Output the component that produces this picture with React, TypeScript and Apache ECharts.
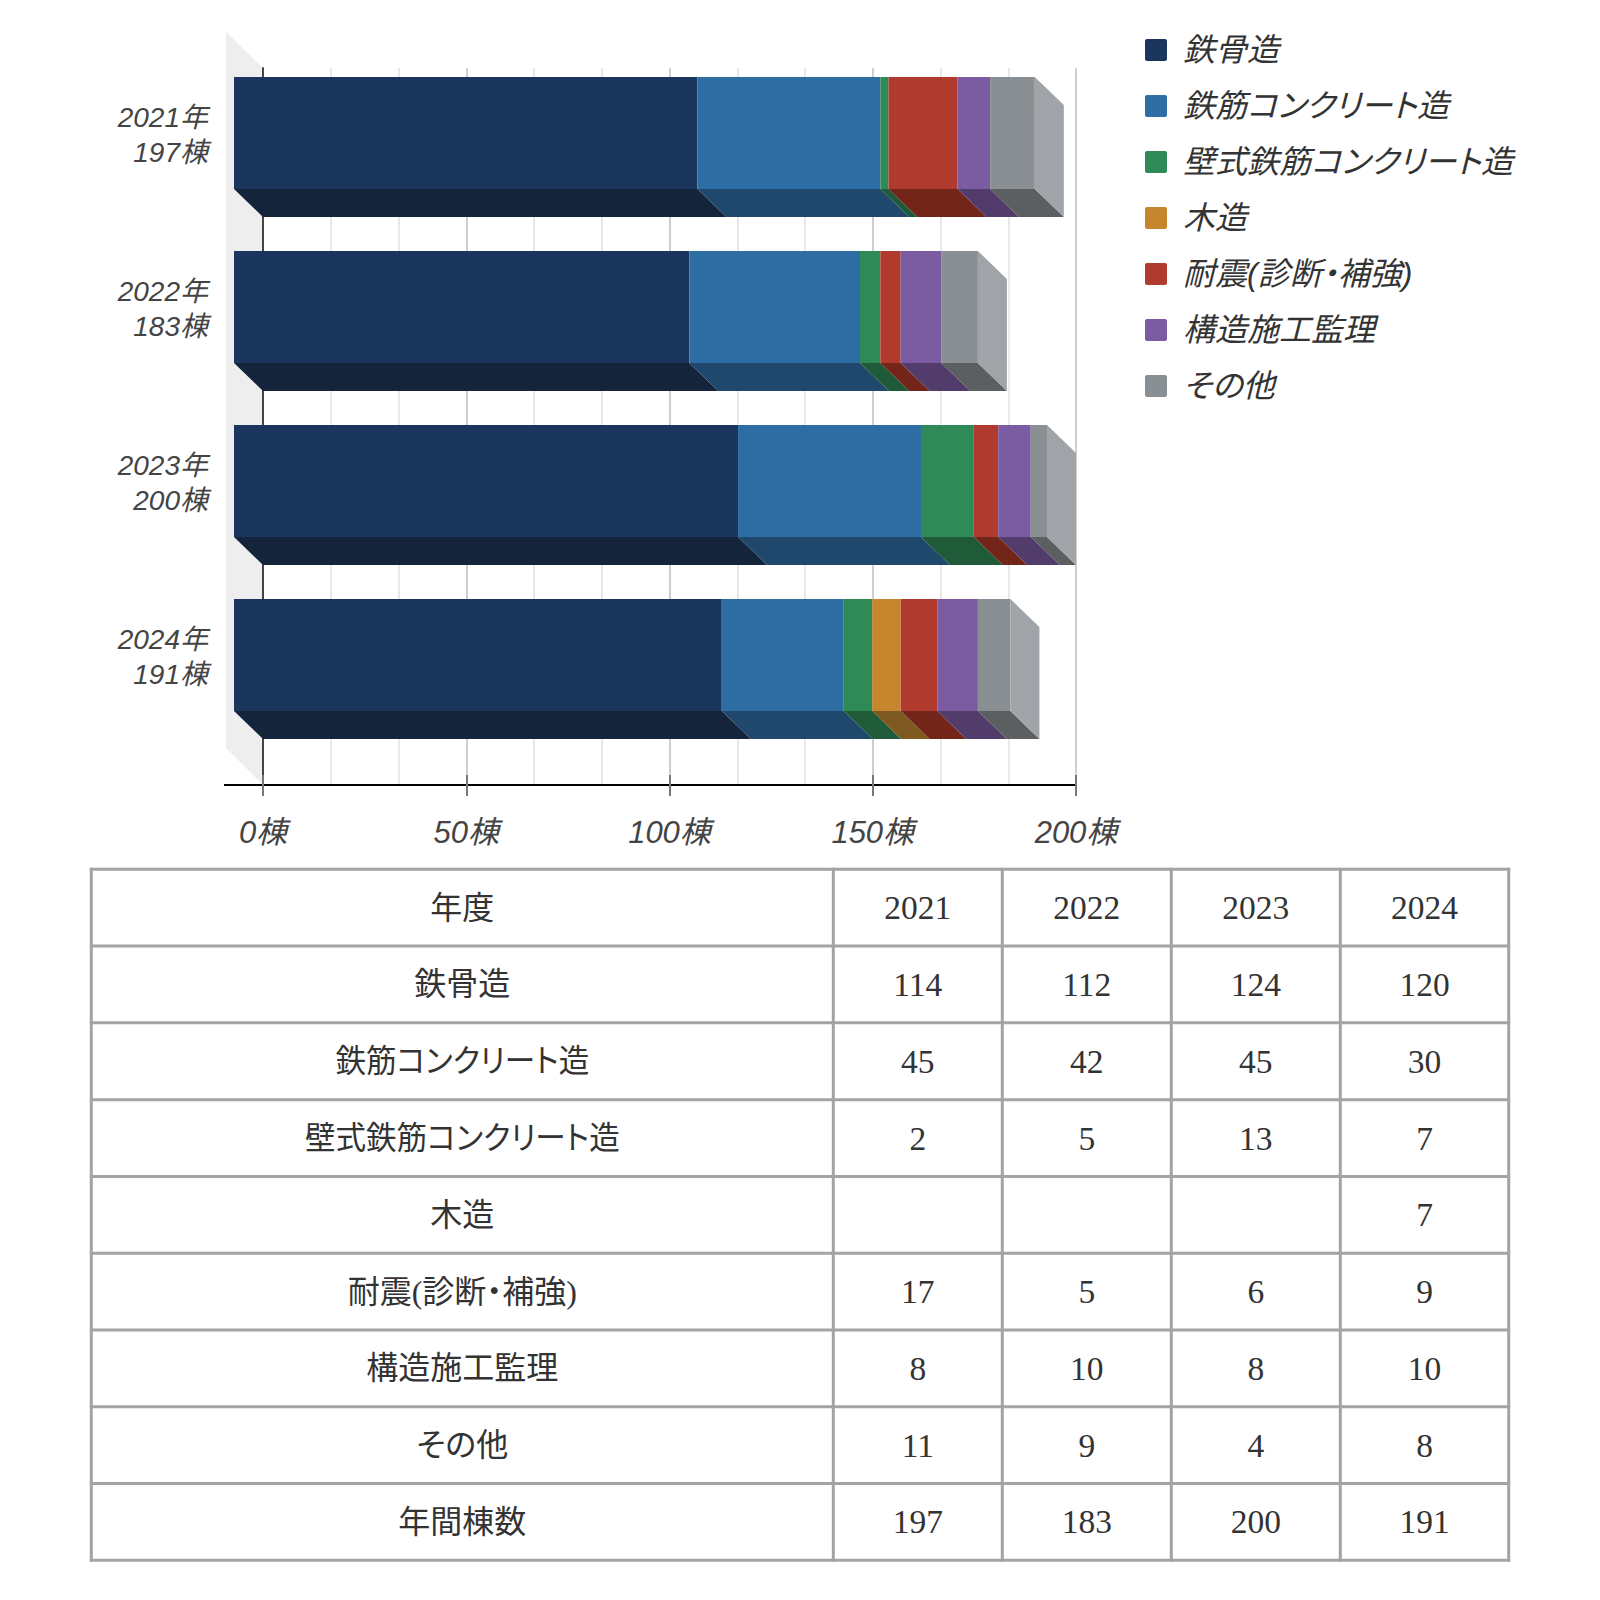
import React, { useEffect, useRef } from "react";
import * as echarts from "echarts";

const years = ["2021", "2022", "2023", "2024"];
const totals = [197, 183, 200, 191];
const structureNames = ["鉄骨造", "鉄筋コンクリート造", "壁式鉄筋コンクリート造", "木造", "耐震(診断・補強)", "構造施工監理", "その他"];
const steelFrame = [114, 112, 124, 120];
const reinforcedConcrete = [45, 42, 45, 30];
const wallConcrete = [2, 5, 13, 7];
const wooden = [null, null, null, 7];
const seismic = [17, 5, 6, 9];
const supervision = [8, 10, 8, 10];
const others = [11, 9, 4, 8];
const frontColors = ["#1b365d", "#2e6da4", "#2e8b57", "#c6862d", "#b03a2e", "#7b5ba1", "#8a8f93"];
const bottomColors = ["#14243b", "#1f486c", "#1f5a39", "#7f5a20", "#73251a", "#523c6b", "#5b5f61"];
const sideColor = "#a0a4a8";
const xTicks = { min: 0, max: 200, interval: 50 };

const seriesValues = [steelFrame, reinforcedConcrete, wallConcrete, wooden, seismic, supervision, others];
const SANS = '"Liberation Sans","Noto Sans CJK JP",sans-serif';
const TABLE_FONT = '"Liberation Serif","Noto Sans CJK JP",serif';
const LEGEND_ICON = "path://M2,0H20Q22,0 22,2V20Q22,22 20,22H2Q0,22 0,20V2Q0,0 2,0Z";

function stackedData(idx: number) {
  return years.map((_, row) => {
    let start = 0;
    for (let s = 0; s < idx; s++) start += seriesValues[s][row] || 0;
    const v = seriesValues[idx][row] || 0;
    return [start, start + v, row];
  });
}

function makeRenderItem(idx: number) {
  const DX = 29;
  const DY = 28;
  const HALF = 56;
  return (_p: any, api: any) => {
    const start = api.value(0);
    const end = api.value(1);
    const row = api.value(2);
    if (end <= start) return { type: "group", children: [] };
    const a = api.coord([start, row]);
    const b = api.coord([end, row]);
    const x0 = a[0];
    const x1 = b[0];
    const cy = a[1];
    const backTop = cy - HALF;
    const backBot = cy + HALF;
    const children: any[] = [
      {
        type: "polygon",
        shape: { points: [[x0 - DX, backBot - DY], [x1 - DX, backBot - DY], [x1, backBot], [x0, backBot]] },
        style: { fill: bottomColors[idx] },
      },
      {
        type: "rect",
        shape: { x: x0 - DX, y: backTop - DY, width: x1 - x0, height: 2 * HALF },
        style: { fill: frontColors[idx] },
      },
    ];
    if (idx === structureNames.length - 1) {
      children.push({
        type: "polygon",
        shape: { points: [[x1 - DX, backTop - DY], [x1, backTop], [x1, backBot], [x1 - DX, backBot - DY]] },
        style: { fill: sideColor },
      });
    }
    return { type: "group", children };
  };
}

function tableGraphics() {
  const colX = [91.3, 833.3, 1002.3, 1171.3, 1340.3, 1508.7];
  const top = 869.3;
  const bottom = 1560.3;
  const rows: (string | number | null)[][] = [
    ["年度", ...years],
    ...structureNames.map((n, i) => [n, ...seriesValues[i]]),
    ["年間棟数", ...totals],
  ];
  const rowH = (bottom - top) / rows.length;
  const out: any[] = [];
  const lineStyle = { stroke: "#a3a3a3", lineWidth: 3 };
  for (let r = 0; r <= rows.length; r++) {
    const y = top + r * rowH;
    out.push({ type: "line", shape: { x1: colX[0] - 1.5, y1: y, x2: colX[5] + 1.5, y2: y }, style: lineStyle });
  }
  for (const x of colX) {
    out.push({ type: "line", shape: { x1: x, y1: top - 1.5, x2: x, y2: bottom + 1.5 }, style: lineStyle });
  }
  rows.forEach((row, r) => {
    row.forEach((cell, c) => {
      if (cell === null) return;
      const text = String(cell);
      out.push({
        type: "text",
        x: (colX[c] + colX[c + 1]) / 2,
        y: top + (r + 0.5) * rowH,
        scaleX: text.includes("コンクリート") ? 0.955 : 1,
        style: {
          text,
          fill: "#333333",
          font: `${c === 0 ? 32 : 33.5}px ${TABLE_FONT}`,
          align: "center",
          verticalAlign: "middle",
        },
      });
    });
  });
  return out;
}

export default function App() {
  const ref = useRef<HTMLDivElement>(null);
  useEffect(() => {
    const chart = echarts.init(ref.current!, undefined, { renderer: "svg" });
    const gridBack = { left: 263, top: 68, width: 813, height: 717 };
    const gridBars = { left: 263, top: 74, width: 813, height: 696 };
    const gridLabels = { left: 263, top: 48, width: 813, height: 696 };
    chart.setOption({
      animation: false,
      backgroundColor: "#ffffff",
      grid: [gridBack, gridBars, gridLabels],
      legend: {
        orient: "vertical",
        left: 1145,
        top: 34,
        padding: 0,
        itemWidth: 22,
        itemHeight: 22,
        itemGap: 24,
        icon: LEGEND_ICON,
        data: structureNames,
        textStyle: { fontFamily: SANS, fontStyle: "italic", fontSize: 32, lineHeight: 30, color: "#333333", padding: [2, 0, 0, 11] },
      },
      xAxis: [
        {
          type: "value",
          gridIndex: 0,
          ...xTicks,
          z: 1,
          axisLine: { show: true, lineStyle: { color: "#000000", width: 2 } },
          axisTick: { show: true, length: 11, lineStyle: { color: "#777777", width: 2 } },
          minorTick: { show: false, splitNumber: 3 },
          minorSplitLine: { show: true, lineStyle: { color: "#e8e8e8", width: 2 } },
          splitLine: { show: true, lineStyle: { color: "#cfcfcf", width: 2 } },
          axisLabel: {
            margin: 32,
            formatter: "{value}棟",
            fontFamily: SANS,
            fontStyle: "italic",
            fontSize: 31,
            color: "#444444",
          },
        },
        {
          type: "value",
          gridIndex: 0,
          ...xTicks,
          z: 2,
          position: "bottom",
          axisLine: { show: false },
          axisTick: { show: true, inside: true, length: 10, lineStyle: { color: "#777777", width: 2 } },
          splitLine: { show: false },
          axisLabel: { show: false },
        },
        { type: "value", gridIndex: 1, ...xTicks, show: false },
        { type: "value", gridIndex: 2, ...xTicks, show: false },
      ],
      yAxis: [
        {
          type: "value",
          gridIndex: 0,
          min: 0,
          max: 1,
          z: 1,
          axisLine: { show: true, onZero: false, lineStyle: { color: "#444444", width: 2 } },
          axisTick: { show: false },
          axisLabel: { show: false },
          splitLine: { show: false },
        },
        {
          type: "category",
          gridIndex: 1,
          inverse: true,
          data: years,
          show: false,
        },
        {
          type: "category",
          gridIndex: 2,
          inverse: true,
          data: years.map((y, i) => `${y}年\n${totals[i]}棟`),
          axisLine: { show: false },
          axisTick: { show: false },
          splitLine: { show: false },
          axisLabel: {
            margin: 55,
            align: "right",
            fontFamily: SANS,
            fontStyle: "italic",
            fontSize: 28,
            lineHeight: 35,
            color: "#444444",
          },
        },
      ],
      series: structureNames.map((name, idx) => ({
        type: "custom",
        name,
        xAxisIndex: 2,
        yAxisIndex: 1,
        clip: false,
        itemStyle: { color: frontColors[idx] },
        encode: { x: [0, 1], y: 2 },
        data: stackedData(idx),
        renderItem: makeRenderItem(idx),
      })),
      graphic: {
        elements: [
          {
            type: "polygon",
            z: -1,
            shape: { points: [[226, 32], [263, 68], [263, 785], [226, 748]] },
            style: { fill: "#eeeeee" },
          },
          {
            type: "line",
            shape: { x1: 224, y1: 785, x2: 263, y2: 785 },
            style: { stroke: "#000000", lineWidth: 2 },
          },
          ...tableGraphics(),
        ],
      },
    });
    return () => chart.dispose();
  }, []);
  return (
    <>
      <style>{`svg text { font-feature-settings: "palt" !important; }`}</style>
      <div ref={ref} style={{ position: "absolute", left: 0, top: 0, width: 1600, height: 1600 }} />
    </>
  );
}
